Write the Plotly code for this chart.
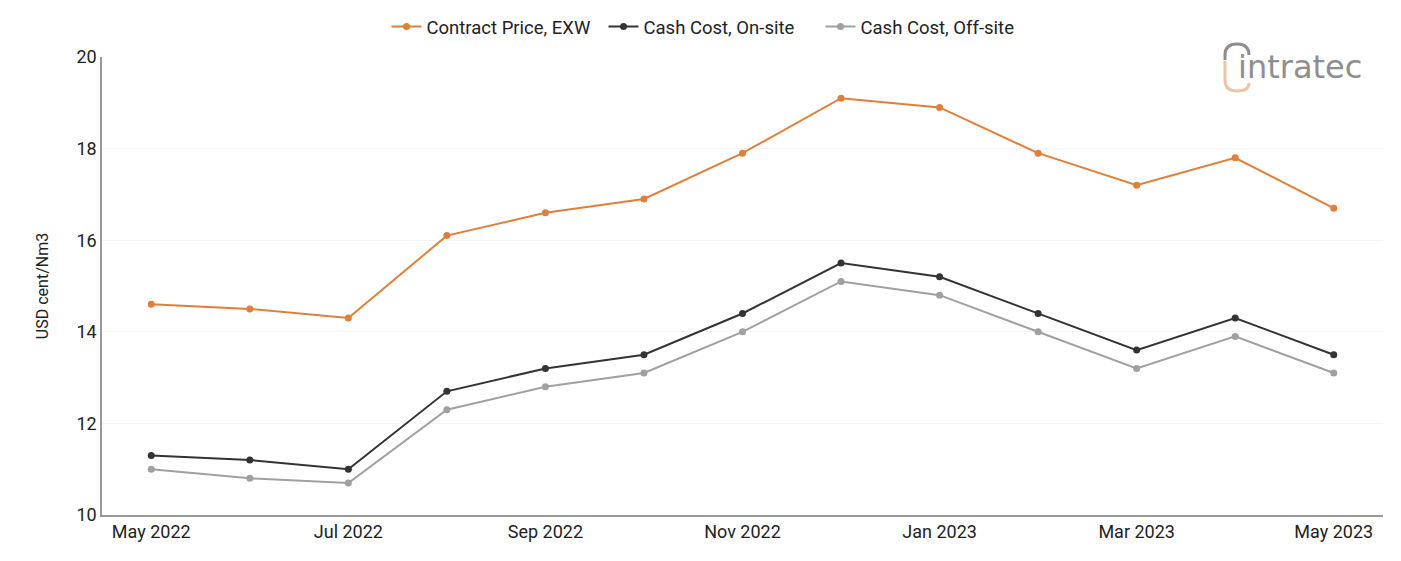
import plotly.graph_objects as go

months = ["May 2022", "Jun 2022", "Jul 2022", "Aug 2022", "Sep 2022", "Oct 2022", "Nov 2022",
          "Dec 2022", "Jan 2023", "Feb 2023", "Mar 2023", "Apr 2023", "May 2023"]
contract_price = [14.6, 14.5, 14.3, 16.1, 16.6, 16.9, 17.9, 19.1, 18.9, 17.9, 17.2, 17.8, 16.7]
cash_onsite = [11.3, 11.2, 11.0, 12.7, 13.2, 13.5, 14.4, 15.5, 15.2, 14.4, 13.6, 14.3, 13.5]
cash_offsite = [11.0, 10.8, 10.7, 12.3, 12.8, 13.1, 14.0, 15.1, 14.8, 14.0, 13.2, 13.9, 13.1]
tick_labels = months[::2]

W, H = 1401, 561
L, R, T, B = 102, 18, 57, 46

fig = go.Figure()
series = [
    ("Contract Price, EXW", contract_price, "#E07F3A"),
    ("Cash Cost, On-site", cash_onsite, "#333333"),
    ("Cash Cost, Off-site", cash_offsite, "#A0A0A0"),
]
for name, vals, col in series:
    fig.add_trace(go.Scatter(x=months, y=vals, name=name, mode="lines+markers",
                             line=dict(color=col, width=2), marker=dict(color=col, size=7)))

pw, ph = W - L - R, H - T - B
def px(x):
    return (x - L) / pw
def py(y):
    return (H - B - y) / ph

fig.update_layout(
    width=W, height=H,
    margin=dict(l=L, r=R, t=T, b=B, autoexpand=False),
    paper_bgcolor="white", plot_bgcolor="white",
    font=dict(family="Roboto", size=18, color="#222222"),
    legend=dict(orientation="h", x=px(712), xanchor="center", y=(H - 27) / H, yanchor="middle",
                yref="container", font=dict(size=18.5), itemwidth=30,
                entrywidthmode="pixels", entrywidth=172),
    xaxis=dict(type="category", tickvals=tick_labels, ticktext=tick_labels,
               range=[-0.5, 12.5], showline=True, linecolor="#999999", linewidth=1.5,
               showgrid=False, ticks="", tickfont=dict(size=18)),
    yaxis=dict(range=[10, 20], dtick=2, showline=True, linecolor="#999999", linewidth=1.5,
               gridcolor="#F4F4F4", ticks="", tickfont=dict(size=18),
               title=dict(text="USD cent/Nm3", font=dict(size=16), standoff=24)),
)

# logo
fig.add_annotation(xref="paper", yref="paper", x=px(1364), y=py(67), xanchor="right", yanchor="middle",
                   text="intratec", showarrow=False,
                   font=dict(family="DejaVu Sans", size=32, color="#8E8E8E"))
gray_arc = (f"M {px(1225)},{py(60)} L {px(1225)},{py(55)} Q {px(1225)},{py(44)} {px(1237)},{py(44)} "
            f"Q {px(1249)},{py(44)} {px(1249)},{py(55)}")
tan_arc = (f"M {px(1225)},{py(61)} L {px(1225)},{py(80)} Q {px(1225)},{py(91)} {px(1237)},{py(91)} "
           f"Q {px(1249)},{py(91)} {px(1249)},{py(83)}")
fig.add_shape(type="path", xref="paper", yref="paper", path=gray_arc,
              line=dict(color="#8E8E8E", width=3))
fig.add_shape(type="path", xref="paper", yref="paper", path=tan_arc,
              line=dict(color="#E9C7A5", width=3))

fig.write_html("out.html")
